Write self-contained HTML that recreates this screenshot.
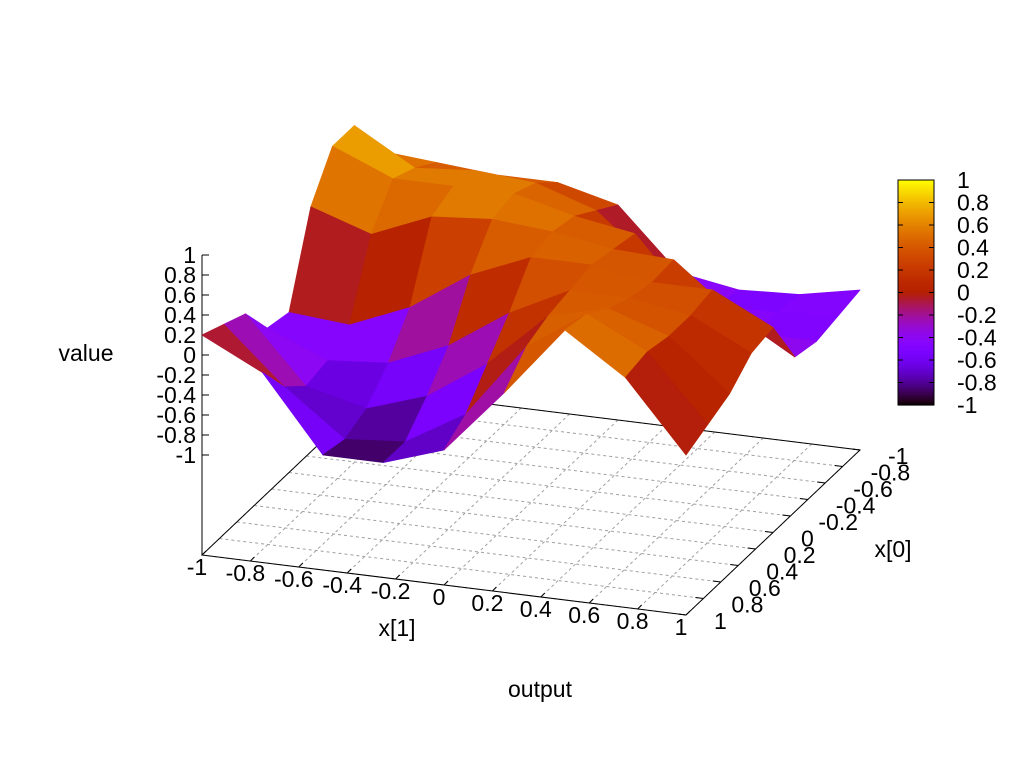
<!DOCTYPE html>
<html><head><meta charset="utf-8"><style>
html,body{margin:0;padding:0;background:#fff;}
svg{display:block;font-family:"Liberation Sans",sans-serif;}
text{font-size:23px;fill:#000;}
</style></head><body>
<svg id="chart" width="1024" height="768" viewBox="0 0 1024 768" xmlns="http://www.w3.org/2000/svg">
<rect width="1024" height="768" fill="#fff"/>
<g id="grid"></g>
<g id="axes"></g>
<g id="surface"></g>
<g id="cbar"></g>
<text x="86" y="361" text-anchor="middle">value</text>
<text x="397" y="636" text-anchor="middle">x[1]</text>
<text x="893" y="557" text-anchor="middle">x[0]</text>
<text x="540" y="697" text-anchor="middle">output</text>
</svg>
<script>
// grid coordinates (data)
const x0Values = [-1, -0.75, -0.5, -0.25, 0, 0.25, 0.5, 0.75, 1];
const x1Values = [-1, -0.75, -0.5, -0.25, 0, 0.25, 0.5, 0.75, 1];
// z values: rows by x0 (back to front), columns by x1
const zRowA = [0.4, 0.35, 0.3, 0.3, 0.15, -0.45, -0.55, -0.52, -0.4];
const zRowB = [0.85, 0.5, 0.55, 0.5, 0.3, -0.2, -0.5, -0.5, -0.45];
const zRowC = [0.85, 0.6, 0.6, 0.6, 0.45, 0.35, -0.3, -0.5, -0.5];
const zRowD = [0.45, 0.25, 0.5, 0.55, 0.5, 0.4, 0.37, -0.1, -0.45];
const zRowE = [-0.4, -0.45, -0.2, 0.2, 0.45, 0.45, 0.35, 0.35, 0.05];
const zRowF = [-0.35, -0.6, -0.55, -0.3, 0.1, 0.4, 0.4, 0.3, 0];
const zRowG = [0.0, -0.65, -0.8, -0.6, -0.2, 0.35, 0.5, 0.3, -0.2];
const zRowH = [0.1, -0.45, -0.9, -0.85, -0.5, 0.25, 0.65, 0.35, -0.3];
const zRowI = [0.2, -0.1, -0.85, -0.85, -0.65, 0.0, 0.7, 0.3, -0.4];
const zRows = [zRowA, zRowB, zRowC, zRowD, zRowE, zRowF, zRowG, zRowH, zRowI];
const axisTicks = [-1, -0.8, -0.6, -0.4, -0.2, 0, 0.2, 0.4, 0.6, 0.8, 1];
const tickLabels = ["-1", "-0.8", "-0.6", "-0.4", "-0.2", "0", "0.2", "0.4", "0.6", "0.8", "1"];

const NS = "http://www.w3.org/2000/svg";
function proj(x1, x0, z) {
  return [531 + 242 * x1 - 87 * x0, 502.5 + 30 * x1 + 82.5 * x0 - (z + 2) * 100];
}
function depth(x1, x0) { return 30 * x1 + 82.5 * x0; }
function palette(z) {
  let g = Math.max(0, Math.min(1, (z + 1) / 2));
  let r = Math.sqrt(g), gg = g * g * g, b = Math.max(0, Math.sin(2 * Math.PI * g));
  return "rgb(" + Math.round(r * 255) + "," + Math.round(gg * 255) + "," + Math.round(b * 255) + ")";
}
function mk(tag, attrs, parent) {
  const e = document.createElementNS(NS, tag);
  for (const k in attrs) e.setAttribute(k, attrs[k]);
  parent.appendChild(e);
  return e;
}
const grid = document.getElementById("grid");
const axes = document.getElementById("axes");
const surf = document.getElementById("surface");
const cbar = document.getElementById("cbar");

// dashed base grid
axisTicks.forEach(t => {
  const a = proj(t, -1, -2), b = proj(t, 1, -2);
  const l1 = mk("line", {x1: a[0], y1: a[1], x2: b[0], y2: b[1], stroke: "#a0a0a0", "stroke-width": 1, "stroke-dasharray": "3,3"}, grid);
  
  
  const c = proj(-1, t, -2), d = proj(1, t, -2);
  const l2 = mk("line", {x1: c[0], y1: c[1], x2: d[0], y2: d[1], stroke: "#a0a0a0", "stroke-width": 1, "stroke-dasharray": "3,3"}, grid);
  
  
});
// base border
const corners = [proj(-1, 1, -2), proj(1, 1, -2), proj(1, -1, -2), proj(-1, -1, -2)];
const border = mk("polygon", {points: corners.map(p => p.join(",")).join(" "), fill: "none", stroke: "#000", "stroke-width": 1}, axes);


// z axis
const zTop = proj(-1, 1, 1), zBot = proj(-1, 1, -2);
const zl = mk("line", {x1: zTop[0], y1: zTop[1], x2: zBot[0], y2: zBot[1], stroke: "#000", "stroke-width": 1}, axes);


axisTicks.forEach((t, i) => {
  const p = proj(-1, 1, t);
  const tk = mk("line", {x1: p[0], y1: p[1], x2: p[0] + 7, y2: p[1], stroke: "#000"}, axes);
  
  
  const tx = mk("text", {x: p[0] - 6, y: p[1] + 8, "text-anchor": "end"}, axes);
  tx.textContent = tickLabels[i];
  
  
  // x1 ticks along front edge
  const q = proj(t, 1, -2);
  const t1 = mk("line", {x1: q[0], y1: q[1], x2: q[0] + 4, y2: q[1] - 4, stroke: "#000"}, axes);
  
  
  const l1 = mk("text", {x: q[0] - 5, y: q[1] + 20, "text-anchor": "middle"}, axes);
  l1.textContent = tickLabels[i];
  
  
  // x0 ticks along right edge
  const r = proj(1, t, -2);
  const t0 = mk("line", {x1: r[0], y1: r[1], x2: r[0] - 8, y2: r[1] - 1, stroke: "#000"}, axes);
  
  
  const l0 = mk("text", {x: r[0] + 28, y: r[1] + 14, "text-anchor": "start"}, axes);
  l0.textContent = tickLabels[i];
  
  
});

// surface quads, painter's order
const quads = [];
for (let i = 0; i < x0Values.length - 1; i++) {
  for (let j = 0; j < x1Values.length - 1; j++) {
    const pts = [[j, i], [j + 1, i], [j + 1, i + 1], [j, i + 1]];
    const zs = pts.map(([a, b]) => zRows[b][a]);
    const cx = (x1Values[j] + x1Values[j + 1]) / 2, cy = (x0Values[i] + x0Values[i + 1]) / 2;
    quads.push({pts, zs, d: depth(cx, cy)});
  }
}
quads.sort((a, b) => a.d - b.d);
quads.forEach(q => {
  const p = q.pts.map(([a, b], k) => proj(x1Values[a], x0Values[b], q.zs[k]));
  const zm = q.zs.reduce((s, v) => s + v, 0) / 4;
  const col = palette(zm);
  const poly = mk("polygon", {points: p.map(v => v[0].toFixed(1) + "," + v[1].toFixed(1)).join(" "), fill: col, stroke: col, "stroke-width": 0.8, "stroke-linejoin": "round"}, surf);
  
  
});

// colorbar
const cbX = 898, cbW = 36, cbTop = 180, cbBot = 405;
for (let k = 0; k < 120; k++) {
  const z = 1 - 2 * (k + 0.5) / 120;
  const y = cbTop + (cbBot - cbTop) * k / 120;
  const r = mk("rect", {x: cbX, y: y, width: cbW, height: (cbBot - cbTop) / 120 + 0.6, fill: palette(z)}, cbar);
  
  
}
const cbb = mk("rect", {x: cbX, y: cbTop, width: cbW, height: cbBot - cbTop, fill: "none", stroke: "#000"}, cbar);


axisTicks.forEach((t, i) => {
  const y = cbTop + (1 - t) / 2 * (cbBot - cbTop);
  const a = mk("line", {x1: cbX, y1: y, x2: cbX + 5, y2: y, stroke: "#000"}, cbar);
  
  
  const b = mk("line", {x1: cbX + cbW - 5, y1: y, x2: cbX + cbW, y2: y, stroke: "#000"}, cbar);
  
  
  const tx = mk("text", {x: 957, y: y + 8, "text-anchor": "start"}, cbar);
  tx.textContent = tickLabels[i];
  
  
});
</script>
</body></html>
